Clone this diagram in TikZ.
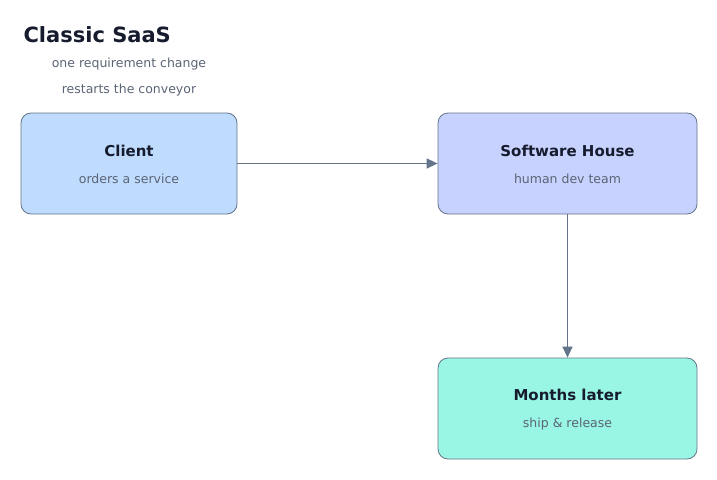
\documentclass[tikz,border=0pt]{standalone}
\usepackage{fontspec}
\setmainfont{DejaVu Sans}
\usetikzlibrary{arrows.meta}
\definecolor{ink}{HTML}{161B2E}
\definecolor{sub}{HTML}{5B6475}
\definecolor{edge}{HTML}{64748B}
\definecolor{cA}{HTML}{BFDBFE}
\definecolor{cB}{HTML}{C7D2FE}
\definecolor{cC}{HTML}{99F6E4}
\begin{document}
\begin{tikzpicture}[x=1pt,y=-1pt,
  box/.style={draw=edge,line width=0.8pt,rounded corners=10pt,minimum width=#1,minimum height=101pt,inner sep=0pt},
  ttl/.style={font=\fontsize{15}{18}\selectfont\bfseries,text=ink},
  st/.style={font=\fontsize{12.5}{15}\selectfont,text=sub},
  arr/.style={draw=edge,line width=1.5pt,-{Triangle[length=11pt,width=10pt]}}]
\useasboundingbox (0,0) rectangle (717,479);
\node[anchor=base west,font=\fontsize{21}{25}\selectfont\bfseries,text=ink] (title) at (20,42) {Classic SaaS};
\node[st,align=center,font=\fontsize{12.5}{26}\selectfont] (subt) at (129,77) {one requirement change\\restarts the conveyor};
\node[box=216pt,fill=cA] (client) at (129,163.5) {};
\node[box=259pt,fill=cB] (soft) at (567.5,163.5) {};
\node[box=259pt,fill=cC] (months) at (567.5,408.5) {};
\node[ttl] (t1) at (129,151) {Client};
\node[st] (s1) at (129,179) {orders a service};
\node[ttl] (t2) at (567.5,151) {Software House};
\node[st] (s2) at (567.5,179) {human dev team};
\node[ttl] (t3) at (567.5,395) {Months later};
\node[st] (s3) at (567.5,424) {ship \& release};
\draw[arr,line width=1.5pt] (client.east) -- (soft.west);
\draw[arr] (soft.south) -- (months.north);
\end{tikzpicture}
\end{document}
